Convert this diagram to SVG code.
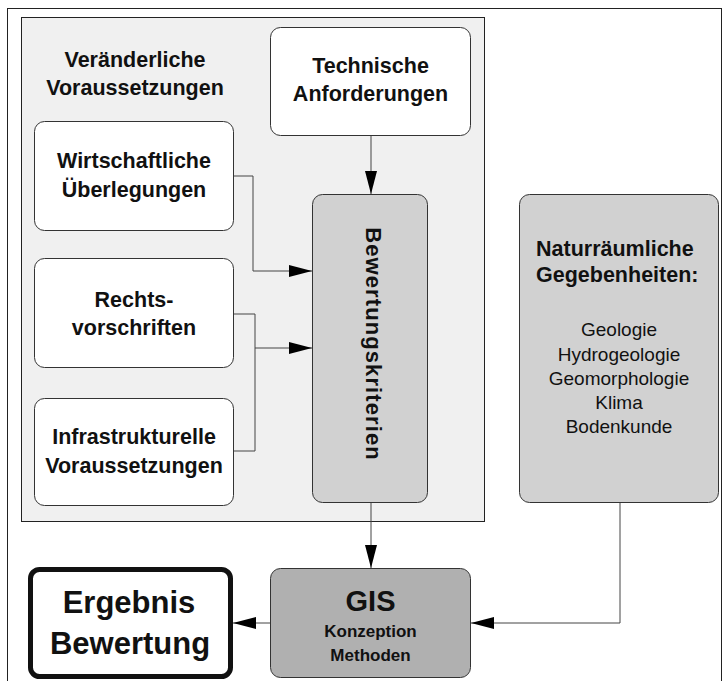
<svg xmlns="http://www.w3.org/2000/svg" width="723" height="681" viewBox="0 0 723 681">
<style>
  .box{fill:#ffffff;stroke:#333333;stroke-width:1}
  .grey{fill:#d1d1d1;stroke:#333333;stroke-width:1}
  .dark{fill:#b0b0b0;stroke:#333333;stroke-width:1}
  .t{font-family:"Liberation Sans",Arial,sans-serif;font-weight:bold;font-size:21.5px;fill:#111111;text-anchor:middle}
  .r{font-family:"Liberation Sans",Arial,sans-serif;font-size:19px;fill:#111111;text-anchor:middle}
  .c{fill:none;stroke:#444444;stroke-width:1}
</style>
<defs>
  <marker id="ah" markerUnits="userSpaceOnUse" markerWidth="23" markerHeight="12" viewBox="0 0 23 12" refX="23" refY="6" orient="auto">
    <path d="M0,0 L23,6 L0,12 z" fill="#000000"/>
  </marker>
</defs>
<rect x="0" y="0" width="723" height="681" fill="#ffffff"/>
<rect x="7.5" y="8.5" width="714" height="690" fill="#ffffff" stroke="#222222" stroke-width="1"/>
<rect x="21.5" y="17.5" width="463" height="504" fill="#f0f0f0" stroke="#222222" stroke-width="1"/>
<text class="t" x="135" y="67">Veränderliche</text>
<text class="t" x="135" y="95">Voraussetzungen</text>

<g id="connectors">
  <path class="c" d="M371,136 V194" marker-end="url(#ah)"/>
  <path class="c" d="M234,176 H253 V271 H312" marker-end="url(#ah)"/>
  <path class="c" d="M234,314 H255 V451 H234"/>
  <path class="c" d="M255,348 H312" marker-end="url(#ah)"/>
  <path class="c" d="M371,503 V568" marker-end="url(#ah)"/>
  <path class="c" d="M620,503 V623 H471" marker-end="url(#ah)"/>
  <path class="c" d="M270,623 H233" marker-end="url(#ah)"/>
</g>

<g id="technische">
  <rect class="box" x="270.5" y="27.5" width="200" height="108" rx="10"/>
  <text class="t" x="370.5" y="73">Technische</text>
  <text class="t" x="370.5" y="101">Anforderungen</text>
</g>
<g id="wirtschaftliche">
  <rect class="box" x="34.5" y="121.5" width="199" height="109" rx="10"/>
  <text class="t" x="134" y="168">Wirtschaftliche</text>
  <text class="t" x="134" y="197">Überlegungen</text>
</g>
<g id="rechts">
  <rect class="box" x="34.5" y="258.5" width="199" height="109" rx="10"/>
  <text class="t" x="134" y="307">Rechts-</text>
  <text class="t" x="134" y="335">vorschriften</text>
</g>
<g id="infrastruktur">
  <rect class="box" x="34.5" y="398.5" width="199" height="107" rx="10"/>
  <text class="t" x="134" y="444">Infrastrukturelle</text>
  <text class="t" x="134" y="473">Voraussetzungen</text>
</g>
<g id="bewertungskriterien">
  <rect class="grey" x="312.5" y="194.5" width="115" height="308" rx="10"/>
  <text class="t" transform="translate(366,344) rotate(90)" style="font-size:22px;letter-spacing:1.1px">Bewertungskriterien</text>
</g>
<g id="naturraum">
  <rect class="grey" x="519.5" y="194.5" width="199" height="308" rx="10"/>
  <text class="t" x="536" y="256" style="text-anchor:start">Naturräumliche</text>
  <text class="t" x="536" y="282" style="text-anchor:start">Gegebenheiten:</text>
  <text class="r" x="619" y="336">Geologie</text>
  <text class="r" x="619" y="361">Hydrogeologie</text>
  <text class="r" x="619" y="385">Geomorphologie</text>
  <text class="r" x="619" y="409">Klima</text>
  <text class="r" x="619" y="433">Bodenkunde</text>
</g>
<g id="gis">
  <rect class="dark" x="270.5" y="568.5" width="200" height="109" rx="10"/>
  <text class="t" x="370.5" y="611" style="font-size:29px">GIS</text>
  <text class="t" x="370.5" y="637" style="font-size:17px">Konzeption</text>
  <text class="t" x="370.5" y="661" style="font-size:17px">Methoden</text>
</g>
<g id="ergebnis">
  <rect x="30.5" y="569.5" width="200" height="107" rx="9" fill="#ffffff" stroke="#111111" stroke-width="5"/>
  <text class="t" x="129" y="613" style="font-size:31px">Ergebnis</text>
  <text class="t" x="130" y="654" style="font-size:31px">Bewertung</text>
</g>
</svg>
